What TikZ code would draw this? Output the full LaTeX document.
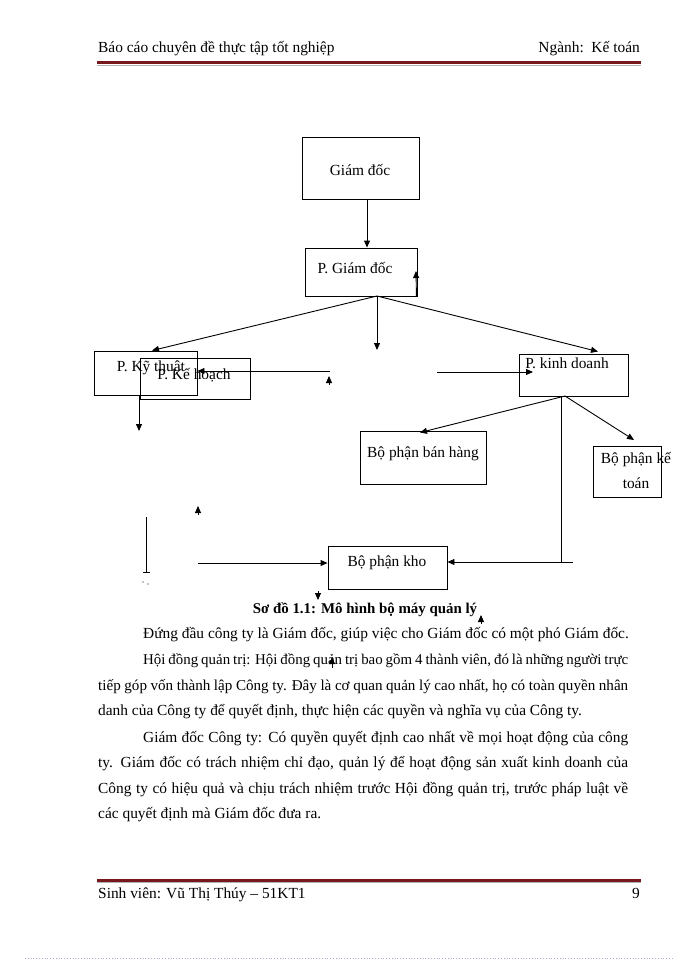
\documentclass[tikz,border=0pt]{standalone}
\usepackage{fontspec}
\setmainfont{Liberation Serif}
\usetikzlibrary{arrows.meta}
\usetikzlibrary{positioning}

\definecolor{rulered}{RGB}{118,24,28}
\definecolor{dotblue}{RGB}{176,176,224}

\tikzset{
	box/.style={draw, line width=0.9pt, inner sep=0pt},
	boxwh/.style 2 args={minimum width=#1pt, minimum height=#2pt},
	txt/.style={inner sep=0pt, font=\fontsize{15.4}{25}\selectfont},
	arr/.style={-{Triangle[length=7pt,width=6pt]}, line width=0.9pt},
	rule/.style={rulered, line width=3pt},
}

\begin{document}
\begin{tikzpicture}[x=1pt, y=-1pt]
	\useasboundingbox (0,0) rectangle (700,960);

	% page header and footer
	\node[txt, anchor=base west] (head) at (98,53) {Báo cáo chuyên đề thực tập tốt nghiệp};
	\node[txt, anchor=base east] (branch) at (640,53) {Ngành:\ \ Kế toán};
	\draw[rule] (97,63) -- (641,63);
	\draw[gray!60, line width=0.6pt] (97,65.5) -- (641,65.5);
	\draw[rule] (97,880) -- (641,880);
	\draw[gray!60, line width=0.6pt] (97,882.5) -- (641,882.5);
	\node[txt, anchor=base west] (student) at (98,898) {Sinh viên: Vũ Thị Thúy – 51KT1};
	\node[txt, anchor=base east] (page) at (640,898) {9};
	\draw[dotblue, line width=0.8pt, dotted] (25,958) -- (672,958);

	% boxes
	\node[box, boxwh={117}{62}] (gd) at (360.5,168) {};
	\node[txt] (gdT) at (360,170) {Giám đốc};
	\node[box, boxwh={112}{48}] (pgd) at (361,272) {};
	\node[txt] (pgdT) at (355,268) {P. Giám đốc};
	\node[box, boxwh={103}{44}] (pkt) at (145.5,373) {};
	\node[txt] (pktT) at (151,368) {P. Kỹ thuật};
	\node[box, boxwh={110}{41}] (pkh) at (195,378.5) {};
	\node[txt] (pkhT) at (194,375) {P. Kế hoạch};
	\node[box, boxwh={109}{42}] (pkd) at (573.5,375) {};
	\node[txt] (pkdT) at (567,363) {P. kinh doanh};
	\node[box, boxwh={126}{53}] (bh) at (423,457.5) {};
	\node[txt] (bhT) at (423,454) {Bộ phận bán hàng};
	\node[box, boxwh={68}{51}] (kt) at (627,472) {};
	\node[txt, align=center] (ktT) at (636,470) {Bộ phận kế\\toán};
	\node[box, boxwh={119}{43}] (kho) at (387.5,567.5) {};
	\node[txt] (khoT) at (387,563) {Bộ phận kho};

	% connectors
	\coordinate (fork) at (377,296);
	\coordinate (mid) at (377,350);
	\coordinate (planR) at (330,371);
	\coordinate (saleL) at (437,372);
	\coordinate (saleR) at (533,372);
	\coordinate (kdOut) at (565,396);
	\coordinate (ktIn) at (634,440);
	\coordinate (techDown) at (139,431);
	\coordinate (khoL) at (198,563);
	\coordinate (corner) at (573,562);

	\draw[arr] ([xshift=6.5]gd.south) -- ([xshift=6]pgd.north);
	\draw[arr] (fork) -- ([xshift=6.5]pkt.north);
	\draw[arr] (fork) -- (mid);
	\draw[arr] (fork) -- ([xshift=24.5,yshift=2]pkd.north);
	\draw[arr] (planR) -- (planR -| pkt.east);
	\draw[arr] (saleL) -- (saleR);
	\draw[arr] (kdOut) -- ([xshift=-3,yshift=-2]bh.north);
	\draw[arr] (kdOut) -- (ktIn);
	\draw[arr] ([xshift=-12]pkd.south) |- ([yshift=5.5]kho.east);
	\draw ([xshift=-12]pkd.south |- corner) -- (corner);
	\draw[arr] ([xshift=-6.5]pkt.south) -- (techDown);
	\draw[arr] (khoL) -- (khoL -| kho.west);

	% stray line and arrow tips
	\coordinate (barTop) at (146,517);
	\coordinate (barEnd) at (146,573);
	\draw[-{Bar[width=7pt]}, line width=0.9pt] (barTop) -- (barEnd);
	\fill (143,582) circle (0.7);
	\fill (148,584) circle (0.7);
	\coordinate (pgdUp) at (416,271);
	\draw[arr] (pgd.south east) ++(-1,0) -- (pgdUp);
	\draw[arr] (329,385) -- (329,376);
	\draw[arr] (198,515) -- (198,506);
	\draw[arr] (318,591) -- (318,600);
	\draw[arr] (481,624) -- (481,615);
	\draw[arr] (332,668) -- (332,657);

	% caption and text
	\node[txt, font=\fontsize{14.9}{25}\selectfont\bfseries, anchor=base] (cap) at (365,613) {Sơ đồ 1.1: Mô hình bộ máy quản lý};
	\node[txt, anchor=base west] (l1) at (143,638) {Đứng đầu công ty là Giám đốc, giúp việc cho Giám đốc có một phó Giám đốc.};
	\node[txt, font=\fontsize{14.9}{25}\selectfont, anchor=base west] (l2) at (143,664) {\makebox[485pt][s]{Hội đồng quản trị: Hội đồng quản trị bao gồm 4 thành viên, đó là những người trực}};
	\node[txt, font=\fontsize{15.1}{25}\selectfont, anchor=base west] (l3) at (98,690) {\makebox[530pt][s]{tiếp góp vốn thành lập Công ty. Đây là cơ quan quản lý cao nhất, họ có toàn quyền nhân}};
	\node[txt, anchor=base west] (l4) at (98,715) {danh của Công ty để quyết định, thực hiện các quyền và nghĩa vụ của Công ty.};
	\node[txt, anchor=base west] (l5) at (143,742) {\makebox[485pt][s]{Giám đốc Công ty: Có quyền quyết định cao nhất về mọi hoạt động của công}};
	\node[txt, anchor=base west] (l6) at (98,767) {\makebox[530pt][s]{ty. Giám đốc có trách nhiệm chỉ đạo, quản lý để hoạt động sản xuất kinh doanh của}};
	\node[txt, anchor=base west] (l7) at (98,793) {\makebox[530pt][s]{Công ty có hiệu quả và chịu trách nhiệm trước Hội đồng quản trị, trước pháp luật về}};
	\node[txt, anchor=base west] (l8) at (98,818) {các quyết định mà Giám đốc đưa ra.};
\end{tikzpicture}
\end{document}
